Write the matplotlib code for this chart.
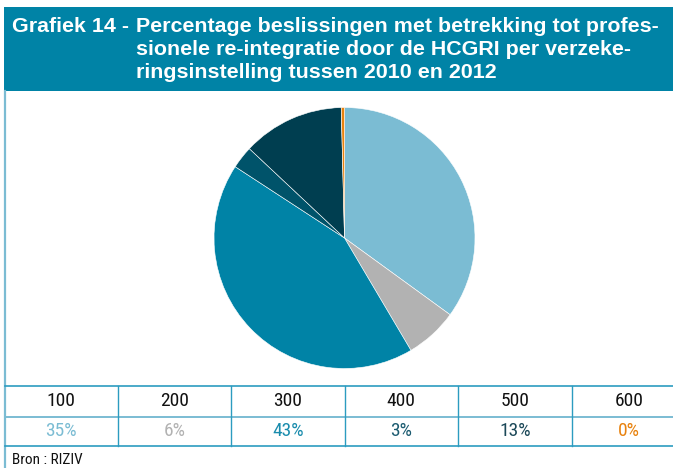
import matplotlib
matplotlib.use("Agg")
import matplotlib.pyplot as plt
from matplotlib.patches import Rectangle
from matplotlib.lines import Line2D

# ---- data ----
categories = ["100", "200", "300", "400", "500", "600"]
shares = [35.0, 6.5, 42.7, 2.8, 12.6, 0.4]
pct_labels = ["35%", "6%", "43%", "3%", "13%", "0%"]
title_prefix = "Grafiek 14 -"
title_lines = [
    "Percentage beslissingen met betrekking tot profes-",
    "sionele re-integratie door de HCGRI per verzeke-",
    "ringsinstelling tussen 2010 en 2012",
]
source = "Bron : RIZIV"

# ---- styles ----
slice_colors = ["#7bbcd3", "#b2b2b2", "#0083a6", "#00536a", "#003e50", "#e8820e"]
text_colors = ["#7bbcd3", "#b2b2b2", "#1a8cad", "#1b5b70", "#1b4858", "#e8820e"]
banner_color = "#0083a6"
line_dark = "#2c9cc0"
line_light = "#7bbcd3"

W, H = 673, 468
fig = plt.figure(figsize=(W / 100, H / 100), dpi=100)
fig.patch.set_facecolor("white")

TITLE_FONT = ["Liberation Sans", "DejaVu Sans"]
FONT = ["Roboto Condensed", "DejaVu Sans"]


def fx(x):
    return x / W


def fy(y):
    return 1 - y / H


# banner
fig.patches.append(Rectangle((fx(4), fy(90.5)), fx(W) - fx(4), fy(7) - fy(90.5),
                             transform=fig.transFigure, facecolor=banner_color,
                             edgecolor="none", zorder=0))
title_base = [31.5, 54.6, 77.7]
fig.text(fx(12.5), fy(title_base[0]), title_prefix, color="white", fontsize=15.4,
         fontweight="bold", family=TITLE_FONT, va="baseline", ha="left")
for ln, yy in zip(title_lines, title_base):
    fig.text(fx(136.5), fy(yy), ln, color="white", fontsize=15.4,
             fontweight="bold", family=TITLE_FONT, va="baseline", ha="left")

# left border line
fig.add_artist(Line2D([fx(4.5), fx(4.5)], [fy(90.5), fy(H)], transform=fig.transFigure,
                      color=line_light, lw=1.6))

# pie
cx, cy, r = 344.5, 238, 130.5
ax = fig.add_axes([fx(cx - r), fy(cy + r), (2 * r) / W, (2 * r) / H])
ax.pie(shares, colors=slice_colors, startangle=90, counterclock=False,
       radius=1, wedgeprops=dict(edgecolor="white", linewidth=0.4))
ax.set_xlim(-1, 1)
ax.set_ylim(-1, 1)
ax.set_aspect("equal")
ax.axis("off")

# table
y_top, y_mid, y_bot = 386, 416.5, 446
col_edges = [4.5, 117.5, 231, 344.5, 458, 572, 685.5]
fig.add_artist(Line2D([fx(4.5), fx(W)], [fy(y_top)] * 2, transform=fig.transFigure,
                      color=line_dark, lw=1.2))
fig.add_artist(Line2D([fx(4.5), fx(W)], [fy(y_mid)] * 2, transform=fig.transFigure,
                      color=line_light, lw=1.4))
fig.add_artist(Line2D([fx(4.5), fx(W)], [fy(y_bot)] * 2, transform=fig.transFigure,
                      color=line_dark, lw=1.2))
for xe in col_edges[1:-1]:
    fig.add_artist(Line2D([fx(xe)] * 2, [fy(y_top), fy(y_bot)], transform=fig.transFigure,
                          color=line_dark, lw=1.0))
for i, (cat, lab) in enumerate(zip(categories, pct_labels)):
    xc = (col_edges[i] + col_edges[i + 1]) / 2
    fig.text(fx(xc), fy((y_top + y_mid) / 2), cat, color="#111111", fontsize=14,
             family=FONT, ha="center", va="center")
    fig.text(fx(xc), fy((y_mid + y_bot) / 2), lab, color=text_colors[i], fontsize=14,
             family=FONT, ha="center", va="center")

fig.text(fx(12.5), fy(460), source, color="#111111", fontsize=11, family=FONT,
         ha="left", va="center")

fig.savefig("out.png", dpi=100)
